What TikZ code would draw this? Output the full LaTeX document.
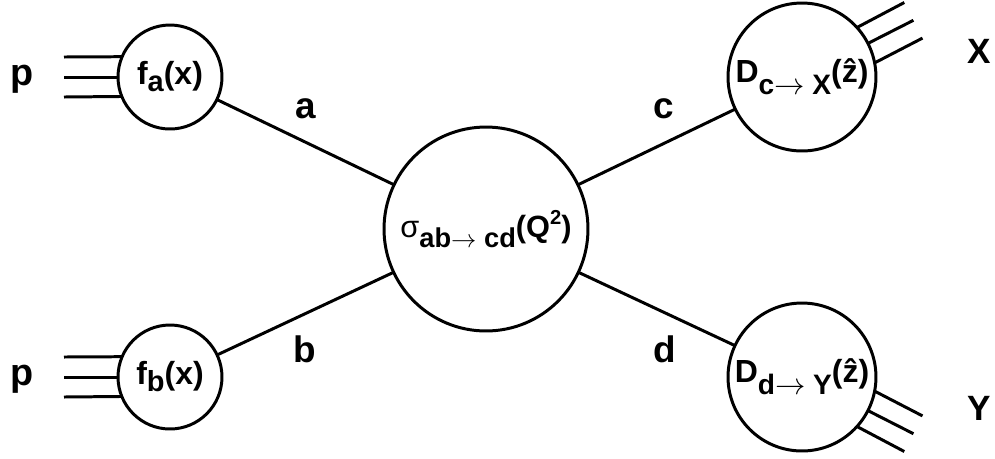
\documentclass[tikz,border=0pt]{standalone}
\usepackage{fontspec}
\setmainfont{Liberation Sans}
\newcommand{\fsz}[1]{\fontsize{#1}{#1}\selectfont}
\newcommand{\subdn}[3]{\raisebox{-#1}{\fsz{#2}#3}}
\newcommand{\supup}[3]{\raisebox{#1}{\fsz{#2}#3}}
\newcommand{\lite}[1]{{\mdseries #1}}
\newcommand{\goes}{\ensuremath{\rightarrow}}
\tikzset{
    blob/.style={circle, draw=black, line width=1.7pt, inner sep=0pt, outer sep=0pt, font=\bfseries\fsz{18.2}},
    pdf/.style={blob, minimum size=2.08cm},
    frag/.style={blob, minimum size=2.96cm},
    hard/.style={blob, minimum size=4.08cm, font=\bfseries\fsz{17.5}},
    leg/.style={line width=1.7pt},
    lbl/.style={font=\bfseries\fsz{21}, anchor=base, inner sep=0pt},
    side/.style={font=\bfseries\fsz{21.5}, anchor=base, inner sep=0pt}
}

\begin{document}
\begin{tikzpicture}[x=0.02cm, y=-0.02cm]
  \useasboundingbox (0,0) rectangle (995,458);

  % blobs
  \node (fa) [pdf] at (170,77) {f\subdn{4pt}{16.5}{a}(x)};
  \node (fb) [pdf] at (170,377) {f\subdn{4pt}{16.5}{b}(x)};
  \node (sig) [hard] at (486,229) {\lite{σ}\subdn{5.7pt}{15.5}{ab\goes\ cd}(Q\supup{7.6pt}{11.5}{2})};
  \node (Dc) [frag] at (802,77) {D\subdn{7pt}{16}{c\goes\ X}(ẑ)};
  \node (Dd) [frag] at (802,377) {D\subdn{7pt}{16}{d\goes\ Y}(ẑ)};

  % partons
  \draw [leg] (fa) -- (sig);
  \draw [leg] (fb) -- (sig);
  \draw [leg] (sig) -- (Dc);
  \draw [leg] (sig) -- (Dd);
  \node (la) [lbl] at (305.5,118) {a};
  \node (lb) [lbl] at (305,362) {b};
  \node (lc) [lbl] at (664,118) {c};
  \node (ld) [lbl] at (665,362) {d};

  % hadrons
  \node (pa) [side] at (22,85) {p};
  \node (pb) [side] at (22,385) {p};
  \node (hx) [side, font=\bfseries\fsz{20}] at (979,63) {X};
  \node (hy) [side, font=\bfseries\fsz{20}] at (979,420) {Y};

  \coordinate (pa1) at (64,57);
  \coordinate (pa2) at (64,77);
  \coordinate (pa3) at (64,97);
  \coordinate (pb1) at (64,357);
  \coordinate (pb2) at (64,377);
  \coordinate (pb3) at (64,397);
  \draw [leg] (pa1) -- (fa.157.4);
  \draw [leg] (pa2) -- (fa.180);
  \draw [leg] (pa3) -- (fa.202.6);
  \draw [leg] (pb1) -- (fb.157.4);
  \draw [leg] (pb2) -- (fb.180);
  \draw [leg] (pb3) -- (fb.202.6);

  \coordinate (x1) at (904.3,2.5);
  \coordinate (x2) at (913.4,20.3);
  \coordinate (x3) at (922.5,38.1);
  \coordinate (y1) at (922.5,415.9);
  \coordinate (y2) at (913.4,433.7);
  \coordinate (y3) at (904.3,451.5);
  \draw [leg] (Dc.42.7) -- (x1);
  \draw [leg] (Dc.27) -- (x2);
  \draw [leg] (Dc.11.3) -- (x3);
  \draw [leg] (Dd.-11.3) -- (y1);
  \draw [leg] (Dd.-27) -- (y2);
  \draw [leg] (Dd.-42.7) -- (y3);
\end{tikzpicture}
\end{document}
